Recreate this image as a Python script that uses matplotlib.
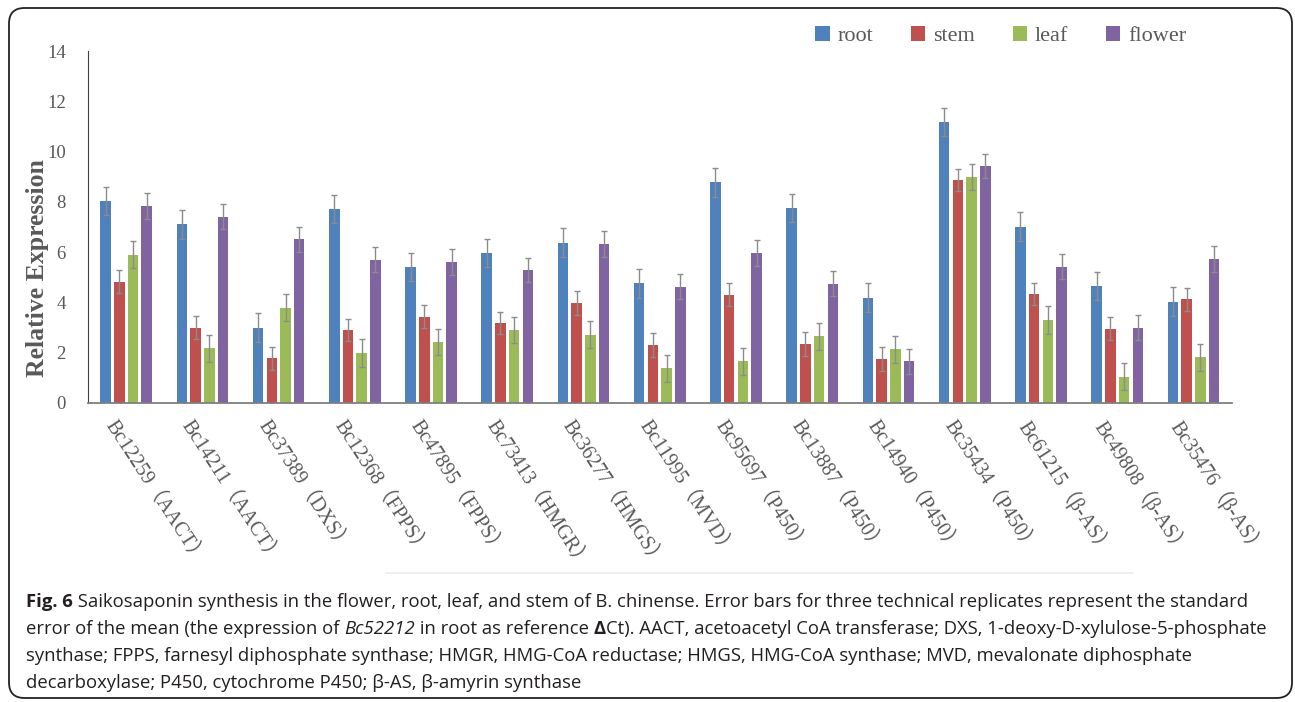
import numpy as np
import matplotlib
matplotlib.use('Agg')
import matplotlib.pyplot as plt
from matplotlib.patches import FancyBboxPatch
from matplotlib.lines import Line2D

# data
genes = ['Bc12259（AACT）', 'Bc14211（AACT）', 'Bc37389（DXS）', 'Bc12368（FPPS）',
         'Bc47895（FPPS）', 'Bc73413（HMGR）', 'Bc36277（HMGS）', 'Bc11995（MVD）',
         'Bc95697（P450）', 'Bc13887（P450）', 'Bc14940（P450）', 'Bc35434（P450）',
         'Bc61215（β-AS）', 'Bc49808（β-AS）', 'Bc35476（β-AS）']
tissues = ['root', 'stem', 'leaf', 'flower']

root = [8.05, 7.11, 3.00, 7.71, 5.42, 5.97, 6.37, 4.76, 8.78, 7.76, 4.19, 11.18, 7.02, 4.65, 4.03]
stem = [4.83, 3.00, 1.78, 2.90, 3.44, 3.19, 3.99, 2.31, 4.31, 2.35, 1.74, 8.87, 4.34, 2.96, 4.12]
leaf = [5.90, 2.18, 3.79, 1.98, 2.42, 2.91, 2.72, 1.38, 1.66, 2.66, 2.13, 8.99, 3.31, 1.05, 1.81]
flower = [7.84, 7.42, 6.51, 5.70, 5.61, 5.29, 6.33, 4.63, 5.97, 4.75, 1.65, 9.44, 5.42, 3.00, 5.73]

root_err = [0.55, 0.57, 0.57, 0.56, 0.56, 0.56, 0.58, 0.57, 0.57, 0.56, 0.57, 0.56, 0.57, 0.56, 0.58]
stem_err = [0.45, 0.47, 0.45, 0.45, 0.47, 0.45, 0.47, 0.47, 0.45, 0.47, 0.47, 0.45, 0.45, 0.47, 0.47]
leaf_err = [0.53, 0.54, 0.53, 0.55, 0.53, 0.53, 0.54, 0.53, 0.53, 0.54, 0.53, 0.53, 0.55, 0.55, 0.54]
flower_err = [0.50, 0.50, 0.50, 0.50, 0.50, 0.49, 0.52, 0.49, 0.50, 0.49, 0.49, 0.48, 0.50, 0.50, 0.50]

colors = ['#4F81BD', '#C0504D', '#9BBB59', '#8064A2']
grey = '#595959'
serif = ['Liberation Serif', 'Noto Sans CJK SC', 'DejaVu Serif']

fig = plt.figure(figsize=(12.95, 7.02), dpi=100)
ax = fig.add_axes([0.068, 0.426, 0.883, 0.501])

x = np.arange(len(genes))
pitch = 0.18
width = 0.138
series = [(root, root_err), (stem, stem_err), (leaf, leaf_err), (flower, flower_err)]
for i, (vals, errs) in enumerate(series):
    ax.bar(x + (i - 1.5) * pitch, vals, width, color=colors[i], label=tissues[i],
           yerr=errs, error_kw=dict(ecolor='#8c8c8c', elinewidth=1.0, capsize=2.5, capthick=1.0),
           zorder=2)

ax.set_xlim(-0.5, len(genes) - 0.5)
ax.set_ylim(0, 14)
ax.set_yticks(range(0, 15, 2))
ax.tick_params(axis='y', length=0, pad=16, labelsize=13.5, labelcolor=grey)
ax.tick_params(axis='x', length=0)
ax.set_xticks(x)
ax.set_xticklabels([])
for lab in ax.get_yticklabels():
    lab.set_family(serif)

for side in ['top', 'right']:
    ax.spines[side].set_visible(False)
ax.spines['left'].set_color('#404040')
ax.spines['bottom'].set_color('#7f7f7f')
ax.spines['bottom'].set_linewidth(1.3)

ax.set_ylabel('Relative Expression', family=serif, fontsize=18.5, fontweight='bold',
              color=grey)
ax.yaxis.set_label_coords(-0.034, 0.384)

# rotated gene labels
for xi, g in zip(x, genes):
    ax.text(xi - 0.12, -0.55, g, transform=ax.transData, rotation=-57,
            rotation_mode='anchor', ha='left', va='top', fontsize=14.5,
            color=grey, family=serif)

leg = ax.legend(loc='center left', bbox_to_anchor=(0.614, 0.949),
                bbox_transform=fig.transFigure, ncol=4, frameon=False,
                handlelength=0.65, handleheight=0.65, handletextpad=0.35,
                columnspacing=1.7, prop={'family': serif, 'size': 16})
for t in leg.get_texts():
    t.set_color(grey)

# faint scan line under the labels
fig.add_artist(Line2D([386 / 1295, 1133 / 1295], [1 - 573 / 702, 1 - 573 / 702],
                      color='#ececec', lw=1.2))

# rounded frame
fig.add_artist(FancyBboxPatch((9 / 1295, 4 / 702), 1283 / 1295, 690 / 702,
                              boxstyle='round,pad=0,rounding_size=0.012',
                              transform=fig.transFigure, fill=False,
                              edgecolor='#222222', lw=1.3, mutation_aspect=1295 / 702))

# caption with mixed styles
lines = [
    [('Fig. 6', 'bold', 'normal'),
     (' Saikosaponin synthesis in the flower, root, leaf, and stem of B. chinense. Error bars for three technical replicates represent the standard', 'normal', 'normal')],
    [('error of the mean (the expression of ', 'normal', 'normal'), ('Bc52212', 'normal', 'italic'),
     (' in root as reference ', 'normal', 'normal'), ('Δ', 'bold', 'normal'),
     ('Ct). AACT, acetoacetyl CoA transferase; DXS, 1-deoxy-D-xylulose-5-phosphate', 'normal', 'normal')],
    [('synthase; FPPS, farnesyl diphosphate synthase; HMGR, HMG-CoA reductase; HMGS, HMG-CoA synthase; MVD, mevalonate diphosphate', 'normal', 'normal')],
    [('decarboxylase; P450, cytochrome P450; β-AS, β-amyrin synthase', 'normal', 'normal')],
]
renderer = fig.canvas.get_renderer()
y0 = 602
for k, runs in enumerate(lines):
    xpix = 26
    ypix = y0 + k * 27
    for txt, wt, st in runs:
        t = fig.text(xpix / 1295, 1 - ypix / 702, txt, fontsize=13.3, family='Open Sans',
                     fontweight=wt, style=st, color='#231f20', va='center', ha='left')
        bb = t.get_window_extent(renderer=renderer)
        xpix += bb.width

fig.savefig('out.png', dpi=100)
